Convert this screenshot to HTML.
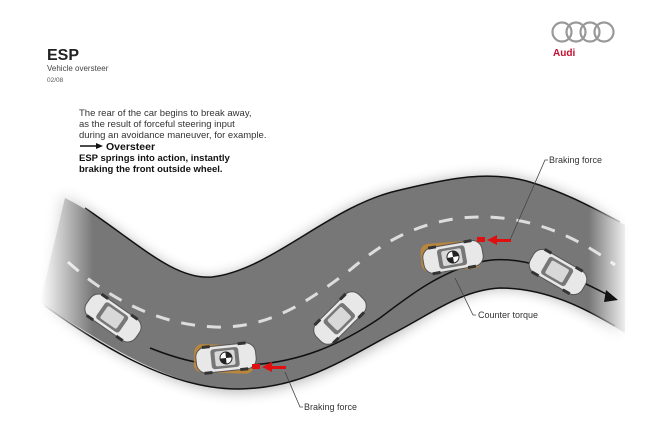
<!DOCTYPE html>
<html><head><meta charset="utf-8"><style>
body{margin:0;background:#fff;width:650px;height:439px;overflow:hidden;font-family:"Liberation Sans",sans-serif;}
</style></head><body>
<svg width="650" height="439" viewBox="0 0 650 439" xmlns="http://www.w3.org/2000/svg" font-family="Liberation Sans, sans-serif">
<defs>
<filter id="b" x="-20%" y="-20%" width="140%" height="140%"><feGaussianBlur stdDeviation="7"/></filter>
<linearGradient id="fg" x1="0" y1="0" x2="1" y2="0" gradientUnits="objectBoundingBox">
<stop offset="0" stop-color="#fff" stop-opacity="0"/><stop offset="0.09" stop-color="#fff" stop-opacity="1"/>
<stop offset="0.93" stop-color="#fff" stop-opacity="1"/><stop offset="1" stop-color="#fff" stop-opacity="0"/></linearGradient>
<mask id="m" maskUnits="userSpaceOnUse" x="0" y="0" width="650" height="439"><rect x="40" y="100" width="590" height="330" fill="url(#fg)"/></mask>
<g id="car">
<rect x="-30" y="-13" width="60" height="26" rx="10" fill="#e8e8e8" stroke="#555" stroke-width="1"/>
<rect x="-15" y="-10" width="28" height="20" rx="3" fill="#777"/>
<rect x="-11" y="-7.5" width="20" height="15" rx="2" fill="#d8d8d8"/>
<rect x="-23" y="-14.5" width="8" height="3" fill="#333"/><rect x="13" y="-14.5" width="8" height="3" fill="#333"/>
<rect x="-23" y="11.5" width="8" height="3" fill="#333"/><rect x="13" y="11.5" width="8" height="3" fill="#333"/>
</g>
</defs>
<text x="47" y="60" font-size="16" font-weight="bold" fill="#222">ESP</text>
<text x="47" y="71" font-size="8" fill="#444">Vehicle oversteer</text>
<text x="47" y="82" font-size="6.5" fill="#555">02/08</text>
<g fill="none" stroke="#999" stroke-width="2.2">
<circle cx="562" cy="32" r="9.5"/><circle cx="576" cy="32" r="9.5"/><circle cx="590" cy="32" r="9.5"/><circle cx="604" cy="32" r="9.5"/></g>
<text x="553" y="56" font-size="10" font-weight="bold" fill="#c4102f">Audi</text>
<g font-size="9.5" fill="#333">
<text x="79" y="116">The rear of the car begins to break away,</text>
<text x="79" y="127">as the result of forceful steering input</text>
<text x="79" y="138">during an avoidance maneuver, for example.</text>
</g>
<line x1="80" y1="146" x2="98" y2="146" stroke="#111" stroke-width="1.5"/><polygon points="96,143 103,146 96,149" fill="#111"/>
<text x="106" y="150" font-size="10.5" font-weight="bold" fill="#111">Oversteer</text>
<text x="79" y="161" font-size="9.5" font-weight="bold" fill="#111">ESP springs into action, instantly</text>
<text x="79" y="172" font-size="9.5" font-weight="bold" fill="#111">braking the front outside wheel.</text>
<g mask="url(#m)">
<path d="M60,195 C120,225 170,285 215,278 C275,270 330,205 400,190 C450,178 490,170 530,182 C570,194 600,212 625,225 L625,335 C590,312 550,288 500,288 C460,290 430,315 390,338 C340,365 300,390 240,392 C170,392 100,340 40,305 Z" fill="#000" opacity="0.3" filter="url(#b)"/>
<path d="M65,198 C120,225 170,283 212,277 C272,270 330,205 400,190 C450,178 490,170 530,182 C570,194 600,212 625,225 L625,333 C590,312 550,288 500,288 C460,290 430,315 390,335 C340,362 300,388 240,389 C170,390 100,340 40,303 Z" fill="#777"/>
<path d="M85,208 C140,245 175,280 212,277 C272,270 330,205 400,190 C450,178 490,170 530,182 C570,194 600,212 620,222" fill="none" stroke="#111" stroke-width="1.5"/>
<path d="M45,306 C100,345 170,390 240,389 C300,388 340,362 390,335 C430,315 460,290 500,288 C550,288 590,312 615,326" fill="none" stroke="#111" stroke-width="1.5"/>
<path d="M68,262 C110,300 160,325 215,327 C270,329 310,300 350,270 C380,245 410,225 460,218 C520,212 570,232 615,265" fill="none" stroke="#ddd" stroke-width="3" stroke-dasharray="14,12"/>
</g>
<path d="M150,348 C180,360 210,368 250,365 C300,362 340,345 380,318 C410,295 440,272 480,262 C520,252 570,275 610,296" fill="none" stroke="#111" stroke-width="1.5"/>
<polygon points="606,290 618,300 604,302" fill="#111"/>
<use href="#car" transform="translate(113,318) rotate(35)"/>
<g transform="translate(226,358) rotate(-6)"><rect x="-32" y="-13" width="60" height="28" rx="8" fill="#c8892e" opacity="0.8" transform="rotate(8)"/><use href="#car"/><circle cx="0" cy="0" r="6" fill="#fff" stroke="#222"/><path d="M0,0 L0,-6 A6,6 0 0 1 6,0 Z M0,0 L0,6 A6,6 0 0 1 -6,0Z" fill="#222"/></g>
<use href="#car" transform="translate(340,318) rotate(-45)"/>
<g transform="translate(453,257) rotate(-10)"><rect x="-32" y="-15" width="60" height="28" rx="8" fill="#c8892e" opacity="0.8" transform="rotate(6)"/><use href="#car"/><circle cx="0" cy="0" r="6" fill="#fff" stroke="#222"/><path d="M0,0 L0,-6 A6,6 0 0 1 6,0 Z M0,0 L0,6 A6,6 0 0 1 -6,0Z" fill="#222"/></g>
<use href="#car" transform="translate(558,272) rotate(30)"/>
<g fill="#e01010"><rect x="252" y="364" width="8" height="5"/><rect x="272" y="366" width="14" height="3"/><polygon points="262,367 272,362 272,372"/>
<rect x="477" y="237" width="8" height="5"/><rect x="497" y="239" width="14" height="3"/><polygon points="487,240 497,235 497,245"/></g>
<g stroke="#444" stroke-width="0.8" fill="none">
<path d="M510,240 L545,160 L548,160"/><path d="M455,278 L473,315 L476,315"/><path d="M285,372 L300,407 L303,407"/></g>
<g font-size="9" fill="#333"><text x="549" y="163">Braking force</text><text x="478" y="318">Counter torque</text><text x="304" y="410">Braking force</text></g>
</svg>
</body></html>
